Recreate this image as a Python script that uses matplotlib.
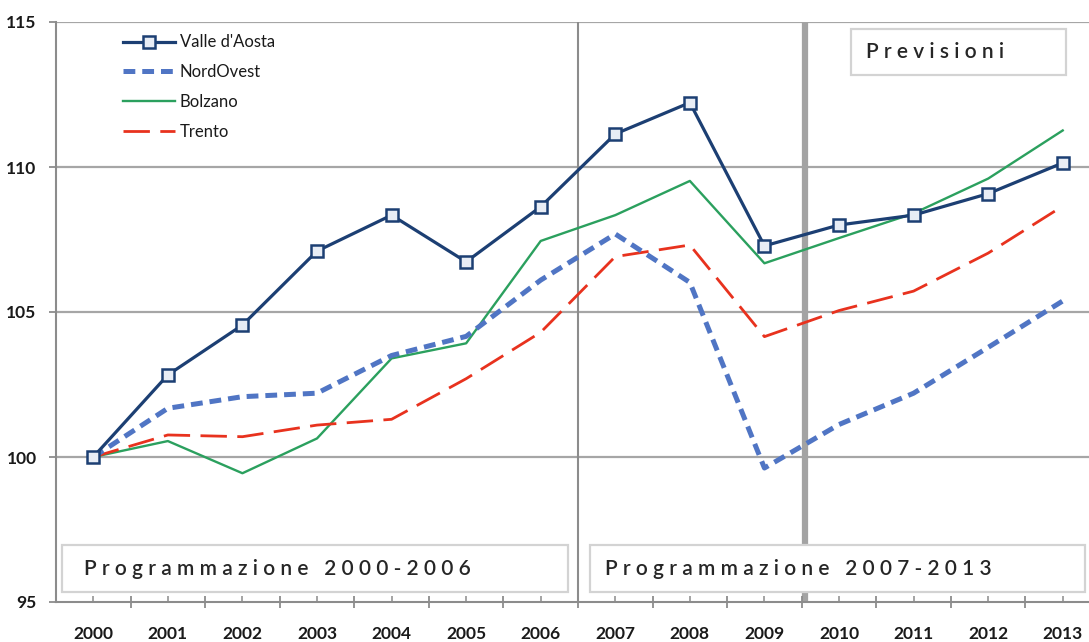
import matplotlib
matplotlib.use("Agg")
import matplotlib.pyplot as plt
from matplotlib.patches import Rectangle
from matplotlib.ticker import FixedLocator, NullFormatter

years = ["2000", "2001", "2002", "2003", "2004", "2005", "2006",
         "2007", "2008", "2009", "2010", "2011", "2012", "2013"]
valle_aosta = [100.0, 102.83, 104.55, 107.1, 108.34, 106.73, 108.63,
               111.14, 112.22, 107.28, 108.0, 108.34, 109.08, 110.14]
nord_ovest = [100.0, 101.68, 102.08, 102.2, 103.5, 104.16, 106.1,
              107.69, 106.02, 99.62, 101.12, 102.2, 103.78, 105.38]
bolzano = [100.0, 100.55, 99.44, 100.64, 103.4, 103.92, 107.45,
           108.34, 109.52, 106.68, 107.55, 108.4, 109.6, 111.26]
trento = [100.0, 100.76, 100.7, 101.1, 101.3, 102.7, 104.3,
          106.91, 107.31, 104.15, 105.05, 105.72, 107.03, 108.65]
y_ticks = [95, 100, 105, 110, 115]
period1_label = "Programmazione 2000-2006"
period2_label = "Programmazione 2007-2013"
forecast_label = "Previsioni"

plt.rcParams['font.family'] = ['Lato', 'DejaVu Sans']
plt.rcParams['lines.scale_dashes'] = False

W, H = 1089, 642
fig = plt.figure(figsize=(W / 100, H / 100), dpi=100)
ax_left, ax_right, ax_top, ax_bottom = 56, 1100, 22, 602
ax = fig.add_axes([ax_left / W, 1 - ax_bottom / H,
                   (ax_right - ax_left) / W, (ax_bottom - ax_top) / H])

x = list(range(len(years)))
grid_c = "#a6a6a6"

ax.set_xlim(-0.5, len(years) - 0.5)
ax.set_ylim(95, 115)
ax.set_yticks(y_ticks)
ax.set_yticklabels([str(v) for v in y_ticks])
for v in y_ticks[1:]:
    ax.axhline(v, color=grid_c, lw=1.6, zorder=1)

# period separators
ax.axvline(6.5, color="#8c8c8c", lw=1.5, zorder=1)
ax.axvline(9.55, color="#a3a3a3", lw=4.5, zorder=1)

ax.plot(x, valle_aosta, color="#1c3f73", lw=2.3, marker="s", ms=8,
        mfc="#e8edf5", mec="#1c3f73", mew=1.8, label="Valle d'Aosta", zorder=5)
ax.plot(x, nord_ovest, color="#5075c4", lw=3.6, dashes=(8.5, 5),
        label="NordOvest", zorder=4)
ax.plot(x, bolzano, color="#2ba05e", lw=1.7, label="Bolzano", zorder=3)
ax.plot(x, trento, color="#e8321e", lw=2.0, dashes=(19, 7.5),
        label="Trento", zorder=3)

# boxes with labels
box_kw = dict(fill=True, facecolor="white", edgecolor="#d3d3d3", lw=1.6, zorder=6)
ax.add_patch(Rectangle((-0.415, 95.34), 6.785, 1.63, **box_kw))
ax.add_patch(Rectangle((6.66, 95.34), 6.64, 1.63, **box_kw))
ax.add_patch(Rectangle((10.16, 113.17), 2.88, 1.59, **box_kw))

def spaced(s):
    return " ".join(s)

txt_kw = dict(fontsize=15, color="#262626", fontweight="semibold",
              va="center", ha="left", zorder=7)
ax.text(-0.13, 96.14, spaced(period1_label), **txt_kw)
ax.text(6.86, 96.14, spaced(period2_label), **txt_kw)
ax.text(10.36, 113.97, spaced(forecast_label), **txt_kw)

# axes styling
for s in ["top", "right"]:
    ax.spines[s].set_visible(False)
for s in ["left", "bottom"]:
    ax.spines[s].set_color("#8c8c8c")
    ax.spines[s].set_linewidth(1.5)

ax.xaxis.set_major_locator(FixedLocator([i + 0.5 for i in x]))
ax.xaxis.set_major_formatter(NullFormatter())
ax.xaxis.set_minor_locator(FixedLocator(x))
ax.set_xticklabels(years, minor=True)
ax.tick_params(axis="x", which="major", direction="inout", length=9,
               width=1.3, color="#8c8c8c")
ax.tick_params(axis="x", which="minor", direction="in", length=4,
               width=1.1, color="#8c8c8c", pad=17, labelsize=12.5,
               labelcolor="#1a1a1a")
ax.tick_params(axis="y", which="major", direction="out", length=5,
               width=1.3, color="#8c8c8c", pad=9, labelsize=12.5,
               labelcolor="#1a1a1a")
for lbl in ax.get_xticklabels(minor=True) + ax.get_yticklabels():
    lbl.set_fontweight("bold")

leg = ax.legend(loc="upper left",
                bbox_to_anchor=((123 - ax_left) / (ax_right - ax_left), 0.9786),
                frameon=False, fontsize=12, handlelength=3.1, handletextpad=0.3,
                labelspacing=0.83, borderaxespad=0, borderpad=0)
for t in leg.get_texts():
    t.set_color("#1a1a1a")

fig.savefig("out.png", dpi=100, facecolor="white")
